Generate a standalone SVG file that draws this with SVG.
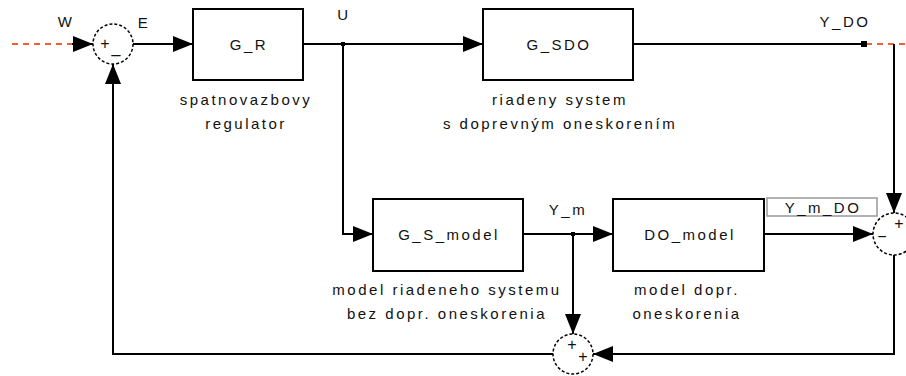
<svg xmlns="http://www.w3.org/2000/svg" width="906" height="376" viewBox="0 0 906 376">
<style>
.box{fill:#fff;stroke:#000;stroke-width:2}
.sum{fill:#fff;stroke:#000;stroke-width:1.5;stroke-dasharray:3 2}
.ln{fill:none;stroke:#000;stroke-width:2}
.dash{fill:none;stroke:#f06030;stroke-width:2;stroke-dasharray:6 5}
text{font-family:"Liberation Sans",Arial,sans-serif;font-size:15px;fill:#111;letter-spacing:2.5px;text-anchor:middle}
.sg{font-size:16px;letter-spacing:0}
</style>
<defs>
<marker id="ar" markerUnits="userSpaceOnUse" markerWidth="20" markerHeight="16" refX="20" refY="8" orient="auto">
<path d="M0,0 L20,8 L0,16 Z" fill="#000"/>
</marker>
</defs>
<rect width="906" height="376" fill="#fff"/>
<g id="connectors">
<line class="dash" x1="12" y1="44" x2="72" y2="44"/>
<line class="ln" x1="72" y1="44" x2="93" y2="44" marker-end="url(#ar)"/>
<line class="ln" x1="133" y1="44" x2="193" y2="44" marker-end="url(#ar)"/>
<line class="ln" x1="303" y1="44" x2="483" y2="44" marker-end="url(#ar)"/>
<line class="ln" x1="633" y1="44" x2="864" y2="44"/>
<line class="dash" x1="866" y1="44" x2="906" y2="44"/>
<polyline class="ln" points="894,44 894,213" marker-end="url(#ar)"/>
<polyline class="ln" points="343,44 343,234 373,234" marker-end="url(#ar)"/>
<line class="ln" x1="523" y1="234" x2="613" y2="234" marker-end="url(#ar)"/>
<line class="ln" x1="573" y1="234" x2="573" y2="334" marker-end="url(#ar)"/>
<line class="ln" x1="764" y1="234" x2="873" y2="234" marker-end="url(#ar)"/>
<polyline class="ln" points="894,255 894,354 593,354" marker-end="url(#ar)"/>
<polyline class="ln" points="553,354 113,354 113,64" marker-end="url(#ar)"/>
<rect x="341" y="42" width="4" height="4" fill="#000"/>
<rect x="861" y="41" width="6" height="6" fill="#000"/>
<rect x="571" y="232" width="4" height="4" fill="#000"/>
<text x="66" y="27">W</text>
<text x="144" y="28">E</text>
<text x="344" y="20">U</text>
<text x="845" y="27">Y_DO</text>
<text x="568" y="215">Y_m</text>
</g>
<g id="sum1">
<circle class="sum" cx="113" cy="44" r="20"/>
<text class="sg" x="105" y="49">+</text>
<text class="sg" x="116" y="53">_</text>
</g>
<g id="G_R">
<rect class="box" x="193" y="9" width="110" height="71"/>
<text x="249" y="50">G_R</text>
<text x="246" y="105">spatnovazbovy</text>
<text x="246" y="129">regulator</text>
</g>
<g id="G_SDO">
<rect class="box" x="483" y="9" width="150" height="71"/>
<text x="559" y="50">G_SDO</text>
<text x="560" y="105">riadeny system</text>
<text x="560" y="129">s doprevným oneskorením</text>
</g>
<g id="G_S_model">
<rect class="box" x="373" y="199" width="150" height="72"/>
<text x="449" y="240">G_S_model</text>
<text x="447" y="295">model riadeneho systemu</text>
<text x="447" y="319">bez dopr. oneskorenia</text>
</g>
<g id="DO_model">
<rect class="box" x="613" y="199" width="151" height="72"/>
<text x="690" y="240">DO_model</text>
<text x="687" y="295">model dopr.</text>
<text x="687" y="319">oneskorenia</text>
</g>
<g id="Y_m_DO">
<rect x="767" y="198" width="110" height="18" fill="#fff" stroke="#999" stroke-width="1.5"/>
<text x="823" y="213">Y_m_DO</text>
</g>
<g id="sum2">
<circle class="sum" cx="894" cy="234" r="21"/>
<text class="sg" x="899" y="229">+</text>
<text class="sg" x="882" y="242">−</text>
</g>
<g id="sum3">
<circle class="sum" cx="573" cy="354" r="20"/>
<text class="sg" x="572" y="350">+</text>
<text class="sg" x="583" y="362">+</text>
</g>
</svg>
